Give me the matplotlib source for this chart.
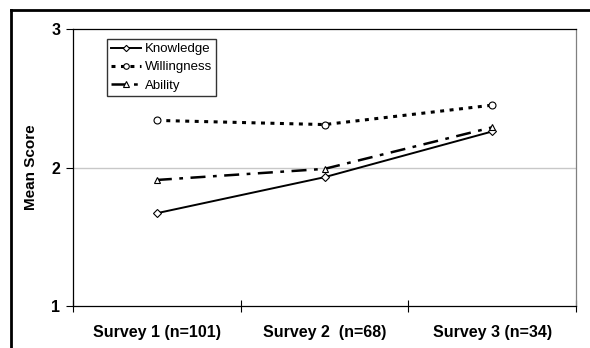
import matplotlib.pyplot as plt
from matplotlib.lines import Line2D

plt.rcParams['font.family'] = ['Liberation Sans', 'DejaVu Sans']

surveys = ["Survey 1 (n=101)", "Survey 2  (n=68)", "Survey 3 (n=34)"]
knowledge = [1.67, 1.93, 2.26]
willingness = [2.34, 2.31, 2.45]
ability = [1.91, 1.99, 2.29]

fig = plt.figure(figsize=(5.9, 3.48), dpi=100)
ax = fig.add_axes([73 / 590, 1 - 306 / 348, (576 - 73) / 590, (306 - 29) / 348])

x = range(len(surveys))
ax.plot(x, knowledge, color="black", lw=1.4, ls="-", marker="D", ms=4,
        mfc="white", mec="black", mew=0.8, label="Knowledge")
ax.plot(x, willingness, color="black", lw=2.2, ls=(0, (1.3, 1.8)), marker="o", ms=5,
        mfc="white", mec="black", mew=0.8, label="Willingness")
ax.plot(x, ability, color="black", lw=1.8, ls=(0, (6, 3, 1.5, 3)), marker="^", ms=5,
        mfc="white", mec="black", mew=0.8, label="Ability")

ax.set_xlim(-0.5, len(surveys) - 0.5)
ax.set_ylim(1, 3)
ax.set_yticks([1, 2, 3])
ax.set_yticklabels(["1", "2", "3"], fontweight="bold", fontsize=11.5)
ax.set_xticks(list(x))
ax.set_xticklabels(surveys, fontweight="bold", fontsize=11.5)
ax.tick_params(axis="x", which="major", length=0, pad=14)
ax.set_xticks([-0.5, 0.5, 1.5, 2.5], minor=True)
ax.tick_params(axis="x", which="minor", direction="inout", length=8, width=0.8)
ax.tick_params(axis="y", length=5, width=0.8, pad=4)
ax.axhline(2, color="#c8c8c8", lw=1, zorder=0)

for side in ["left", "bottom", "top"]:
    ax.spines[side].set_linewidth(0.9)
ax.spines["right"].set_color("#808080")
ax.spines["right"].set_linewidth(0.9)

ax.set_ylabel("Mean Score", fontweight="bold", fontsize=11, labelpad=10)

leg = ax.legend(loc="upper left", bbox_to_anchor=(34 / 503, 1 - 10 / 277),
                fontsize=9.5, frameon=True, fancybox=False, edgecolor="black",
                handlelength=2.3, handletextpad=0.3, borderpad=0.3,
                labelspacing=0.45, borderaxespad=0, markerscale=0.8)
leg.get_frame().set_linewidth(1.0)

# outer frame (top and left edges)
fig.add_artist(Line2D([11 / 590, 1], [1 - 10 / 348, 1 - 10 / 348],
                      transform=fig.transFigure, color="black", lw=2))
fig.add_artist(Line2D([11 / 590, 11 / 590], [0, 1 - 10 / 348],
                      transform=fig.transFigure, color="black", lw=2))

fig.savefig("out.png", dpi=100)
